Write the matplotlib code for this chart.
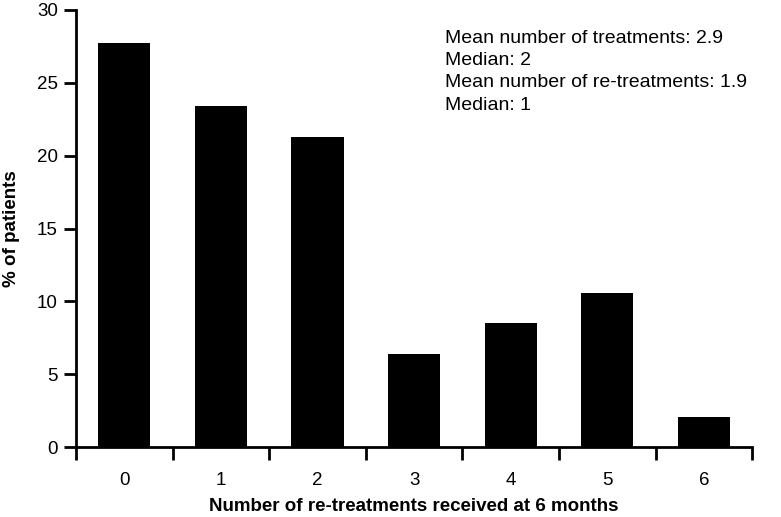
import matplotlib
matplotlib.use("Agg")
import matplotlib.pyplot as plt
import numpy as np

plt.rcParams['font.family'] = ['Liberation Sans', 'DejaVu Sans']

# re-treatments received at 6 months (n = 47)
retreatments = [0, 1, 2, 3, 4, 5, 6]
pct_patients = [27.7, 23.4, 21.3, 6.4, 8.5, 10.6, 2.1]
y_ticks = [0, 5, 10, 15, 20, 25, 30]
stats_lines = [
    "Mean number of treatments: 2.9",
    "Median: 2",
    "Mean number of re-treatments: 1.9",
    "Median: 1",
]

fig = plt.figure(figsize=(7.81, 5.17), dpi=100)
ax = fig.add_axes([0.0973, 0.135, 0.866, 0.846])

ax.bar(retreatments, pct_patients, width=0.54, color='black')

ax.set_xlim(-0.5, 6.5)
ax.set_ylim(0, 30)
ax.set_yticks(y_ticks)
ax.set_xticks(np.arange(-0.5, 7, 1))
ax.set_xticklabels([])
ax.set_xticks(retreatments, minor=True)
ax.set_xticklabels([str(r) for r in retreatments], minor=True)
ax.tick_params(axis='x', which='minor', length=0, pad=18, labelsize=13.5)
ax.tick_params(axis='x', which='major', length=9, width=2)
ax.tick_params(axis='y', length=9, width=2, labelsize=13.5, pad=4)

for s in ['top', 'right']:
    ax.spines[s].set_visible(False)
for s in ['left', 'bottom']:
    ax.spines[s].set_linewidth(2)

ax.set_xlabel('Number of re-treatments received at 6 months', fontsize=13.5,
              fontweight='bold', labelpad=6)
ax.set_ylabel('% of patients', fontsize=13.5, fontweight='bold', labelpad=12)

ax.text(0.545, 0.955, "\n".join(stats_lines), transform=ax.transAxes,
        fontsize=14, va='top', ha='left', linespacing=1.42)

fig.savefig('out.png', dpi=100)
